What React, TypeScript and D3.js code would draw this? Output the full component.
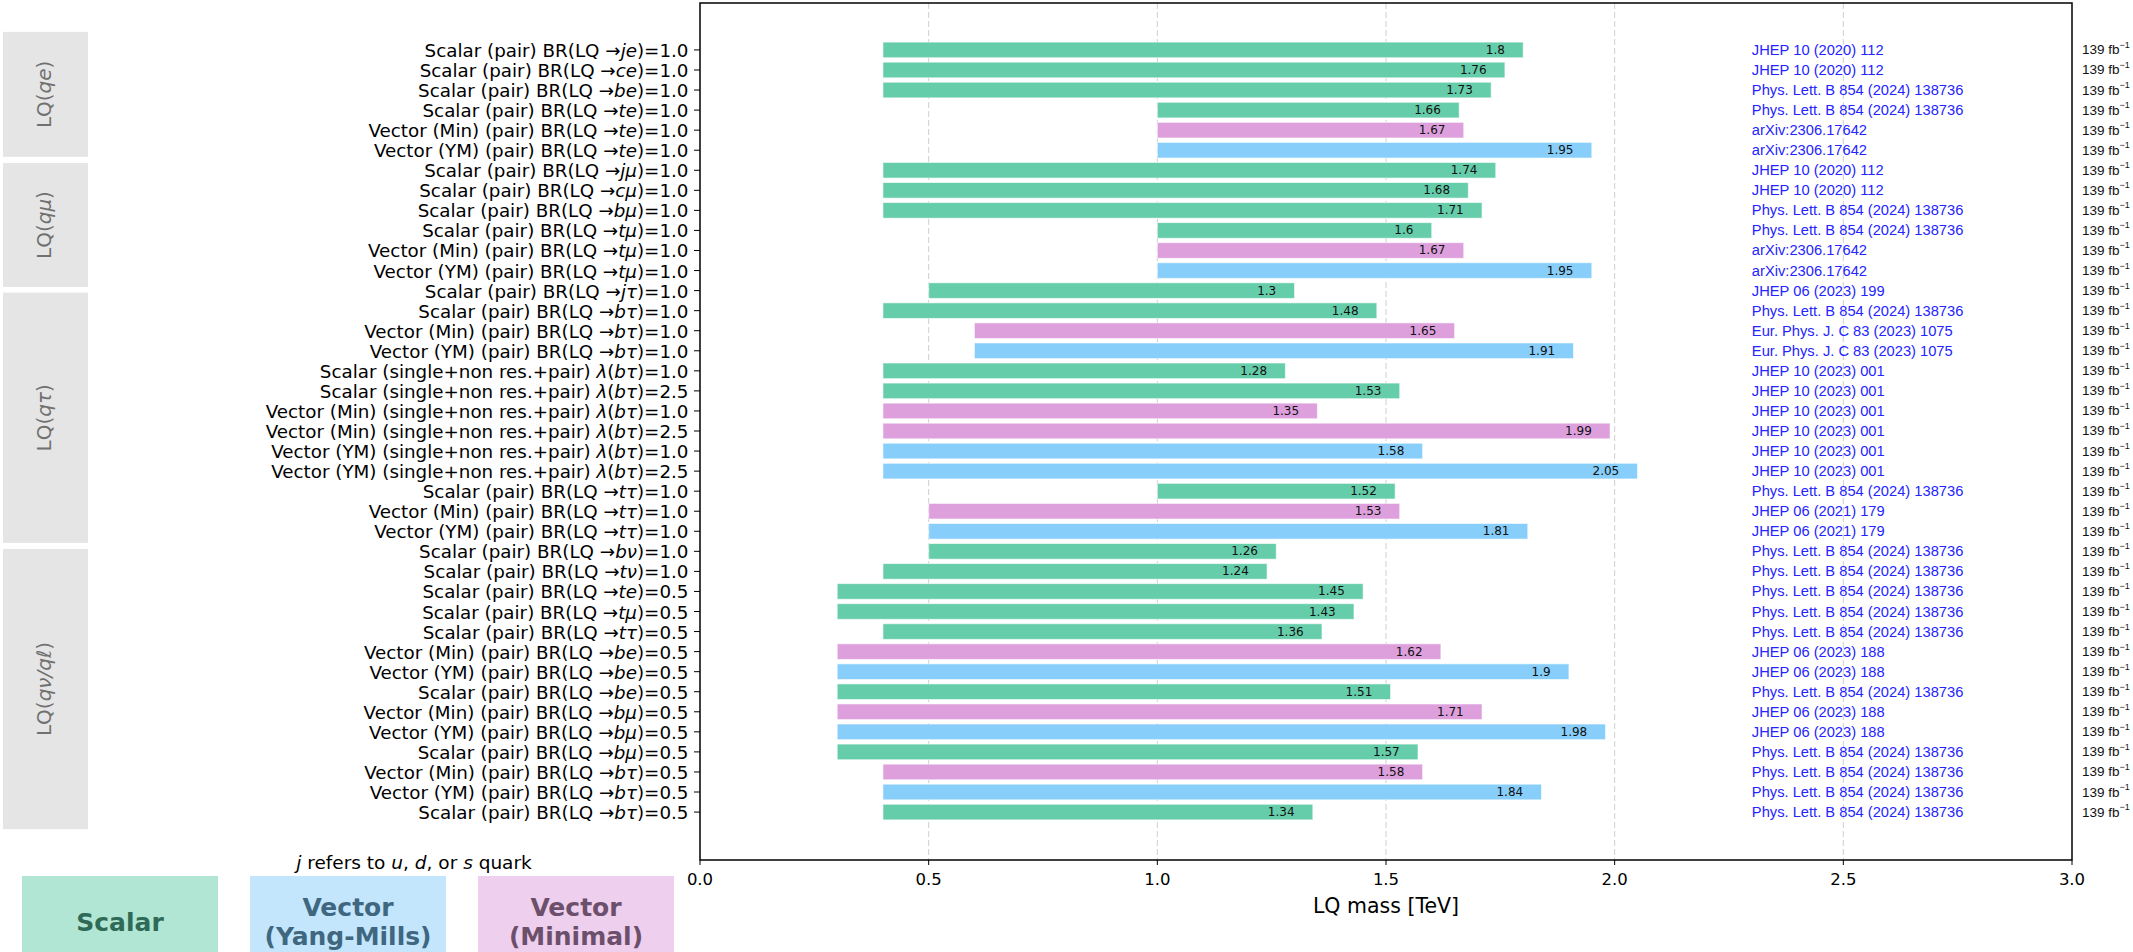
import * as d3 from 'd3'
import React from 'react'

// rows, top to bottom. {..} marks math italic
const labels = [
  'Scalar (pair) BR(LQ \u2192{je})=1.0',
  'Scalar (pair) BR(LQ \u2192{ce})=1.0',
  'Scalar (pair) BR(LQ \u2192{be})=1.0',
  'Scalar (pair) BR(LQ \u2192{te})=1.0',
  'Vector (Min) (pair) BR(LQ \u2192{te})=1.0',
  'Vector (YM) (pair) BR(LQ \u2192{te})=1.0',
  'Scalar (pair) BR(LQ \u2192{jμ})=1.0',
  'Scalar (pair) BR(LQ \u2192{cμ})=1.0',
  'Scalar (pair) BR(LQ \u2192{bμ})=1.0',
  'Scalar (pair) BR(LQ \u2192{tμ})=1.0',
  'Vector (Min) (pair) BR(LQ \u2192{tμ})=1.0',
  'Vector (YM) (pair) BR(LQ \u2192{tμ})=1.0',
  'Scalar (pair) BR(LQ \u2192{jτ})=1.0',
  'Scalar (pair) BR(LQ \u2192{bτ})=1.0',
  'Vector (Min) (pair) BR(LQ \u2192{bτ})=1.0',
  'Vector (YM) (pair) BR(LQ \u2192{bτ})=1.0',
  'Scalar (single+non res.+pair) {λ}({bτ})=1.0',
  'Scalar (single+non res.+pair) {λ}({bτ})=2.5',
  'Vector (Min) (single+non res.+pair) {λ}({bτ})=1.0',
  'Vector (Min) (single+non res.+pair) {λ}({bτ})=2.5',
  'Vector (YM) (single+non res.+pair) {λ}({bτ})=1.0',
  'Vector (YM) (single+non res.+pair) {λ}({bτ})=2.5',
  'Scalar (pair) BR(LQ \u2192{tτ})=1.0',
  'Vector (Min) (pair) BR(LQ \u2192{tτ})=1.0',
  'Vector (YM) (pair) BR(LQ \u2192{tτ})=1.0',
  'Scalar (pair) BR(LQ \u2192{bν})=1.0',
  'Scalar (pair) BR(LQ \u2192{tν})=1.0',
  'Scalar (pair) BR(LQ \u2192{te})=0.5',
  'Scalar (pair) BR(LQ \u2192{tμ})=0.5',
  'Scalar (pair) BR(LQ \u2192{tτ})=0.5',
  'Vector (Min) (pair) BR(LQ \u2192{be})=0.5',
  'Vector (YM) (pair) BR(LQ \u2192{be})=0.5',
  'Scalar (pair) BR(LQ \u2192{be})=0.5',
  'Vector (Min) (pair) BR(LQ \u2192{bμ})=0.5',
  'Vector (YM) (pair) BR(LQ \u2192{bμ})=0.5',
  'Scalar (pair) BR(LQ \u2192{bμ})=0.5',
  'Vector (Min) (pair) BR(LQ \u2192{bτ})=0.5',
  'Vector (YM) (pair) BR(LQ \u2192{bτ})=0.5',
  'Scalar (pair) BR(LQ \u2192{bτ})=0.5',
]

const lowerLimits = [
  0.4, 0.4, 0.4, 1.0, 1.0, 1.0,
  0.4, 0.4, 0.4, 1.0, 1.0, 1.0,
  0.5, 0.4, 0.6, 0.6, 0.4, 0.4, 0.4, 0.4, 0.4, 0.4, 1.0, 0.5, 0.5,
  0.5, 0.4, 0.3, 0.3, 0.4, 0.3, 0.3, 0.3, 0.3, 0.3, 0.3, 0.4, 0.4, 0.4,
]

const upperLimits = [
  1.8, 1.76, 1.73, 1.66, 1.67, 1.95,
  1.74, 1.68, 1.71, 1.6, 1.67, 1.95,
  1.3, 1.48, 1.65, 1.91, 1.28, 1.53, 1.35, 1.99, 1.58, 2.05, 1.52, 1.53, 1.81,
  1.26, 1.24, 1.45, 1.43, 1.36, 1.62, 1.9, 1.51, 1.71, 1.98, 1.57, 1.58, 1.84, 1.34,
]

// S = scalar, YM = vector Yang-Mills, Min = vector minimal
const kinds = [
  'S', 'S', 'S', 'S', 'Min', 'YM',
  'S', 'S', 'S', 'S', 'Min', 'YM',
  'S', 'S', 'Min', 'YM', 'S', 'S', 'Min', 'Min', 'YM', 'YM', 'S', 'Min', 'YM',
  'S', 'S', 'S', 'S', 'S', 'Min', 'YM', 'S', 'Min', 'YM', 'S', 'Min', 'YM', 'S',
]

const PLB = 'Phys. Lett. B 854 (2024) 138736'
const references = [
  'JHEP 10 (2020) 112', 'JHEP 10 (2020) 112', PLB, PLB, 'arXiv:2306.17642', 'arXiv:2306.17642',
  'JHEP 10 (2020) 112', 'JHEP 10 (2020) 112', PLB, PLB, 'arXiv:2306.17642', 'arXiv:2306.17642',
  'JHEP 06 (2023) 199', PLB, 'Eur. Phys. J. C 83 (2023) 1075', 'Eur. Phys. J. C 83 (2023) 1075',
  'JHEP 10 (2023) 001', 'JHEP 10 (2023) 001', 'JHEP 10 (2023) 001', 'JHEP 10 (2023) 001',
  'JHEP 10 (2023) 001', 'JHEP 10 (2023) 001', PLB, 'JHEP 06 (2021) 179', 'JHEP 06 (2021) 179',
  PLB, PLB, PLB, PLB, PLB, 'JHEP 06 (2023) 188', 'JHEP 06 (2023) 188', PLB,
  'JHEP 06 (2023) 188', 'JHEP 06 (2023) 188', PLB, PLB, PLB, PLB,
]

const luminosity = '139'

const groupNames = ['LQ({qe})', 'LQ({qμ})', 'LQ({qτ})', 'LQ({qν/qℓ})']
// extent of each side box, in row units
const groupSpans = [[-0.9, 5.33], [5.64, 11.82], [12.1, 24.58], [24.88, 38.85]]

const xTicks = [0, 0.5, 1.0, 1.5, 2.0, 2.5, 3.0]
const gridTicks = [0.5, 1.0, 1.5, 2.0, 2.5]

const legendKinds = ['S', 'YM', 'Min']
const legendNames = [['Scalar'], ['Vector', '(Yang-Mills)'], ['Vector', '(Minimal)']]
const footnote = '{j} refers to {u}, {d}, or {s} quark'

const barColor: Record<string, string> = { S: '#66cdaa', YM: '#87cefa', Min: '#dda0dd' }
const boxColor: Record<string, string> = { S: '#b2e6d4', YM: '#c3e6fc', Min: '#eecfee' }
const boxText: Record<string, string> = { S: '#2f6a57', YM: '#3f6780', Min: '#6b4f6b' }

const rich = (s: string) =>
  s
    .split(/(\{[^}]*\})/)
    .filter((p) => p.length)
    .map((p, i) =>
      p.startsWith('{') ? (
        <tspan key={i} fontStyle="italic">
          {p.slice(1, -1)}
        </tspan>
      ) : (
        <tspan key={i}>{p}</tspan>
      )
    )

const App = () => {
  const W = 2133
  const H = 952
  const margin = { top: 3, left: 700, right: 2072, bottom: 860 }

  const x = d3.scaleLinear().domain([0, 3]).range([margin.left, margin.right])
  const y = d3.scaleLinear().domain([-2.34, 40.39]).range([margin.top, margin.bottom])
  const barH = (y(1) - y(0)) * 0.78

  const font = 'DejaVu Sans'
  const refFont = 'Liberation Sans'

  return (
    <svg
      width={W}
      height={H}
      style={{ position: 'absolute', left: 0, top: 0, background: '#fff' }}
      fontFamily={font}
    >
      <rect x={0} y={0} width={W} height={H} fill="#fff" />

      {/* group boxes */}
      {groupNames.map((g, i) => {
        const y0 = y(groupSpans[i][0])
        const y1 = y(groupSpans[i][1])
        return (
          <g key={g}>
            <rect x={3} y={y0} width={85} height={y1 - y0} fill="#e5e5e5" />
            <text
              transform={`translate(44,${(y0 + y1) / 2}) rotate(-90)`}
              textAnchor="middle"
              dominantBaseline="central"
              fontSize={20}
              fill="#707070"
            >
              {rich(g)}
            </text>
          </g>
        )
      })}

      {/* grid */}
      {gridTicks.map((t) => (
        <line
          key={t}
          x1={x(t)}
          x2={x(t)}
          y1={margin.top}
          y2={margin.bottom}
          stroke="#cfcfcf"
          strokeWidth={1}
          strokeDasharray="6,3"
        />
      ))}

      {/* bars */}
      {labels.map((l, i) => (
        <rect
          key={'b' + i}
          x={x(lowerLimits[i])}
          y={y(i) - barH / 2}
          width={x(upperLimits[i]) - x(lowerLimits[i])}
          height={barH}
          fill={barColor[kinds[i]]}
          stroke="#ffffff"
          strokeOpacity={0.6}
          strokeWidth={1}
        />
      ))}

      {/* value labels */}
      {upperLimits.map((v, i) => (
        <text
          key={'v' + i}
          x={x(v - 0.04)}
          y={y(i)}
          textAnchor="end"
          dominantBaseline="central"
          fontSize={12}
          fill="#111"
        >
          {String(v)}
        </text>
      ))}

      {/* references and luminosity */}
      {references.map((r, i) => (
        <g key={'r' + i} fontFamily={refFont}>
          <text x={x(2.3)} y={y(i)} dominantBaseline="central" fill="#2424ff" fontSize={14.7}>
            {r}
          </text>
          <text x={x(3.022)} y={y(i)} dominantBaseline="central" fill="#111" fontSize={13.5}>
            {luminosity} fb
            <tspan dy={-5} fontSize={9}>
              {'\u22121'}
            </tspan>
          </text>
        </g>
      ))}

      {/* y axis labels */}
      {labels.map((l, i) => (
        <g key={'l' + i}>
          <line x1={margin.left - 6} x2={margin.left} y1={y(i)} y2={y(i)} stroke="#000" />
          <text
            x={margin.left - 11.5}
            y={y(i)}
            textAnchor="end"
            dominantBaseline="central"
            fontSize={18.3}
            fill="#000"
          >
            {rich(l)}
          </text>
        </g>
      ))}

      {/* frame */}
      <rect
        x={margin.left}
        y={margin.top}
        width={margin.right - margin.left}
        height={margin.bottom - margin.top}
        fill="none"
        stroke="#000"
        strokeWidth={1.5}
      />

      {/* x axis */}
      {xTicks.map((t) => (
        <g key={'x' + t}>
          <line x1={x(t)} x2={x(t)} y1={margin.bottom} y2={margin.bottom + 5} stroke="#000" />
          <text x={x(t)} y={879} textAnchor="middle" dominantBaseline="central" fontSize={16.5}>
            {t.toFixed(1)}
          </text>
        </g>
      ))}
      <text
        x={(margin.left + margin.right) / 2}
        y={906}
        textAnchor="middle"
        dominantBaseline="central"
        fontSize={20.5}
      >
        LQ mass [TeV]
      </text>

      {/* footnote and legend boxes */}
      <text x={414} y={862} textAnchor="middle" dominantBaseline="central" fontSize={18.5}>
        {rich(footnote)}
      </text>
      {legendKinds.map((k, i) => {
        const bx = 22 + i * 228
        const lines = legendNames[i]
        const cy = 922
        return (
          <g key={k}>
            <rect x={bx} y={876} width={196} height={90} fill={boxColor[k]} />
            {lines.map((t, j) => (
              <text
                key={t}
                x={bx + 98}
                y={cy + (j - (lines.length - 1) / 2) * 29}
                textAnchor="middle"
                dominantBaseline="central"
                fontSize={25}
                fontWeight="bold"
                fill={boxText[k]}
              >
                {t}
              </text>
            ))}
          </g>
        )
      })}
    </svg>
  )
}

export default App
